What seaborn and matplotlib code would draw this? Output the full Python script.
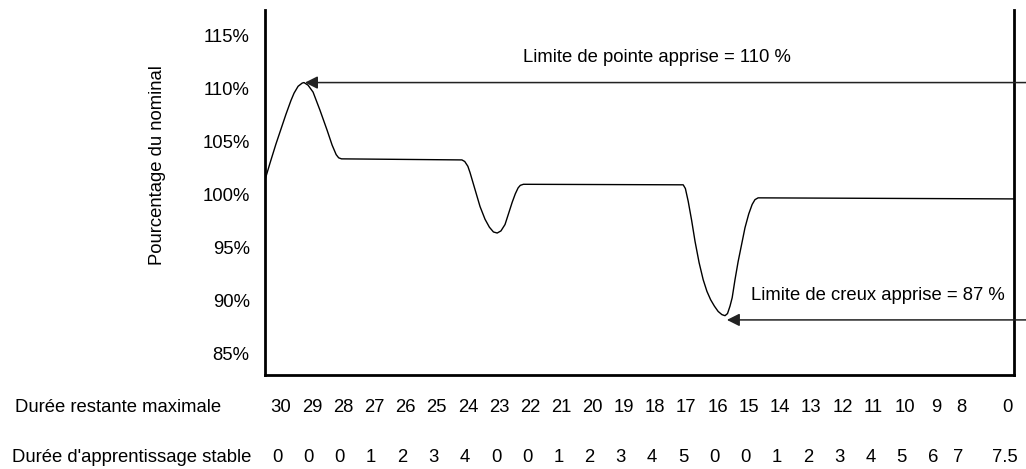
import numpy as np
import pandas as pd
import matplotlib
matplotlib.use("Agg")
import matplotlib.pyplot as plt
import matplotlib.transforms as mtransforms
import seaborn as sns

# curve (x in slot units, y in % of nominal)
curve_x = [0.0, 0.16, 0.35, 0.51, 0.67, 0.83, 0.93, 1.06, 1.19, 1.25,
           1.38, 1.54, 1.76, 1.99, 2.15, 2.28, 2.36, 2.45,
           6.31, 6.40, 6.50, 6.57, 6.73, 6.89, 7.05, 7.19, 7.32, 7.44,
           7.56, 7.69, 7.80, 7.92, 8.02, 8.11, 8.18, 8.28,
           13.40, 13.47, 13.56, 13.67, 13.78, 13.91, 14.04, 14.16, 14.28, 14.40,
           14.52, 14.64, 14.74, 14.82, 14.90, 14.97, 15.06, 15.16, 15.27, 15.38,
           15.50, 15.61, 15.70, 15.80, 24.0]
curve_y = [101.42, 103.0, 104.8, 106.2, 107.6, 108.9, 109.6, 110.25, 110.55, 110.6,
           110.35, 109.7, 108.0, 106.1, 104.7, 103.8, 103.5, 103.4,
           103.3, 103.15, 102.7, 102.1, 100.5, 98.9, 97.7, 96.95, 96.5, 96.4,
           96.6, 97.2, 98.2, 99.3, 100.1, 100.66, 100.9, 101.0,
           100.95, 100.6, 99.4, 97.6, 95.6, 93.6, 92.0, 90.9, 90.1, 89.5,
           89.0, 88.7, 88.6, 88.8, 89.5, 90.3, 92.0, 93.7, 95.3, 96.9,
           98.2, 99.1, 99.55, 99.72, 99.62]

y_ticks = [85, 90, 95, 100, 105, 110, 115]
y_tick_labels = ["85%", "90%", "95%", "100%", "105%", "110%", "115%"]

row1_name = "Durée restante maximale"
row1_labels = ["30", "29", "28", "27", "26", "25", "24", "23", "22", "21", "20", "19",
               "18", "17", "16", "15", "14", "13", "12", "11", "10", "9", "8", "0"]
row2_name = "Durée d'apprentissage stable"
row2_labels = ["0", "0", "0", "1", "2", "3", "4", "0", "0", "1", "2", "3",
               "4", "5", "0", "0", "1", "2", "3", "4", "5", "6", "7", "7.5"]
label_pos = [i + 0.5 for i in range(22)] + [22.3, 23.8]

peak_limit = 110.6
peak_x = 1.28
trough_limit = 88.2
trough_x = 14.8
peak_text = "Limite de pointe apprise = 110 %"
trough_text = "Limite de creux apprise = 87 %"

sns.set_theme(style="white")
plt.rcParams["font.family"] = ["Liberation Sans", "DejaVu Sans"]
plt.rcParams["text.color"] = "black"
plt.rcParams["ytick.color"] = "black"

fs = 13.3

fig = plt.figure(figsize=(10.26, 4.69), dpi=100)
ax = fig.add_axes([0.2583, 0.2004, 0.7300, 0.7783])

df = pd.DataFrame({"x": curve_x, "y": curve_y})
sns.lineplot(data=df, x="x", y="y", color="black", linewidth=1.0, ax=ax)

ax.set_xlim(0, 24)
ax.set_ylim(83.0, 117.45)
ax.set_yticks(y_ticks)
ax.set_yticklabels(y_tick_labels, fontsize=fs, color="black")
ax.set_xticks([])
ax.tick_params(axis="y", length=0, pad=11)
ax.set_xlabel("")
ax.set_ylabel("")

for side in ["left", "bottom", "right"]:
    ax.spines[side].set_visible(True)
    ax.spines[side].set_color("black")
    ax.spines[side].set_linewidth(2)
ax.spines["top"].set_visible(False)

fig.text(157 / 1026, 1 - 165 / 469, "Pourcentage du nominal", rotation=90,
         ha="center", va="center", fontsize=fs)

# arrows for learned limits
for tip_x, lim in [(peak_x, peak_limit), (trough_x, trough_limit)]:
    ax.annotate("", xy=(tip_x, lim), xytext=(24.45, lim),
                arrowprops=dict(arrowstyle="-|>", color="#222222", lw=1.1,
                                mutation_scale=19, shrinkA=0, shrinkB=0),
                annotation_clip=False)
ax.text(12.56, 113.0, peak_text, ha="center", va="center", fontsize=fs)
ax.text(19.65, 90.5, trough_text, ha="center", va="center", fontsize=fs)

# two rows of labels under the axis
trans = mtransforms.blended_transform_factory(ax.transData, fig.transFigure)
y1 = 1 - 407 / 469
y2 = 1 - 457 / 469
for p, lab in zip(label_pos, row1_labels):
    ax.text(p, y1, lab, transform=trans, ha="center", va="center", fontsize=fs)
for p, lab in zip(label_pos, row2_labels):
    ax.text(p - 0.1, y2, lab, transform=trans, ha="center", va="center", fontsize=fs)
fig.text(15 / 1026, y1, row1_name, ha="left", va="center", fontsize=fs)
fig.text(12 / 1026, y2, row2_name, ha="left", va="center", fontsize=fs)

fig.savefig("out.png", dpi=100)
